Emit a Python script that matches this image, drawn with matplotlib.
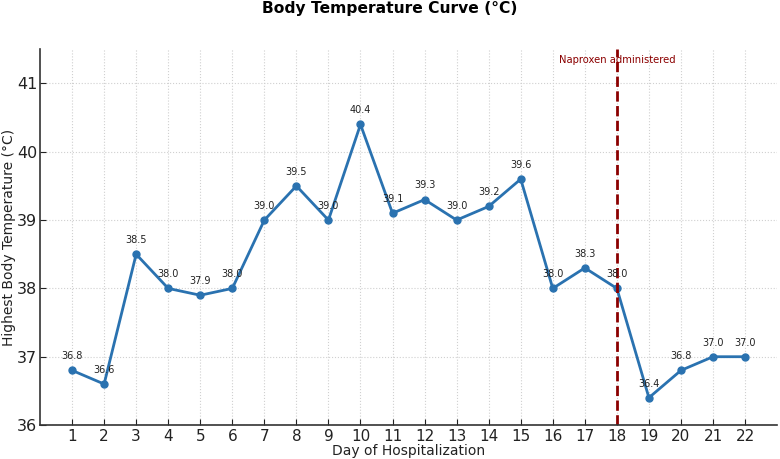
import matplotlib
matplotlib.use("Agg")
import matplotlib.pyplot as plt

days = list(range(1, 23))
temps = [36.8, 36.6, 38.5, 38.0, 37.9, 38.0, 39.0, 39.5, 39.0, 40.4, 39.1,
         39.3, 39.0, 39.2, 39.6, 38.0, 38.3, 38.0, 36.4, 36.8, 37.0, 37.0]
naproxen_day = 18
naproxen_label = "Naproxen administered"

fig = plt.figure(figsize=(7.8, 4.59), dpi=100)
ax = fig.add_axes([0.0513, 0.074, 0.945, 0.8186])

ax.plot(days, temps, color="#2a72b0", linewidth=2, marker="o", markersize=5)
for d, t in zip(days, temps):
    ax.annotate(f"{t:.1f}", (d, t), textcoords="offset points", xytext=(0, 8),
                ha="center", fontsize=7, color="#222222")

ax.axvline(naproxen_day, color="#8b0000", linestyle="--", linewidth=2)
ax.text(naproxen_day, 41.27, naproxen_label, color="#8b0000", ha="center",
        va="bottom", fontsize=7.2)

ax.set_xlim(0, 23)
ax.set_ylim(36, 41.5)
ax.set_xticks(days)
ax.set_yticks([36, 37, 38, 39, 40, 41])
ax.tick_params(direction="in", labelsize=11, pad=3, length=4, colors="#222222")
ax.tick_params(axis="y", labelsize=11.5, pad=2)
ax.grid(True, linestyle=":", color="#d0d0d0", linewidth=0.8)
ax.set_axisbelow(True)
for s in ("top", "right"):
    ax.spines[s].set_visible(False)
for s in ("left", "bottom"):
    ax.spines[s].set_color("#333333")
    ax.spines[s].set_linewidth(1.2)

ax.set_xlabel("Day of Hospitalization", fontsize=10, labelpad=0, color="#222222")
ax.set_ylabel("Highest Body Temperature (°C)", fontsize=10, color="#222222")
ax.yaxis.set_label_coords(-0.033, 0.5)
fig.text(0.5, 0.997, "Body Temperature Curve (°C)", ha="center", va="top",
         fontsize=11.2, fontweight="bold")

fig.savefig("out.png", dpi=100)
